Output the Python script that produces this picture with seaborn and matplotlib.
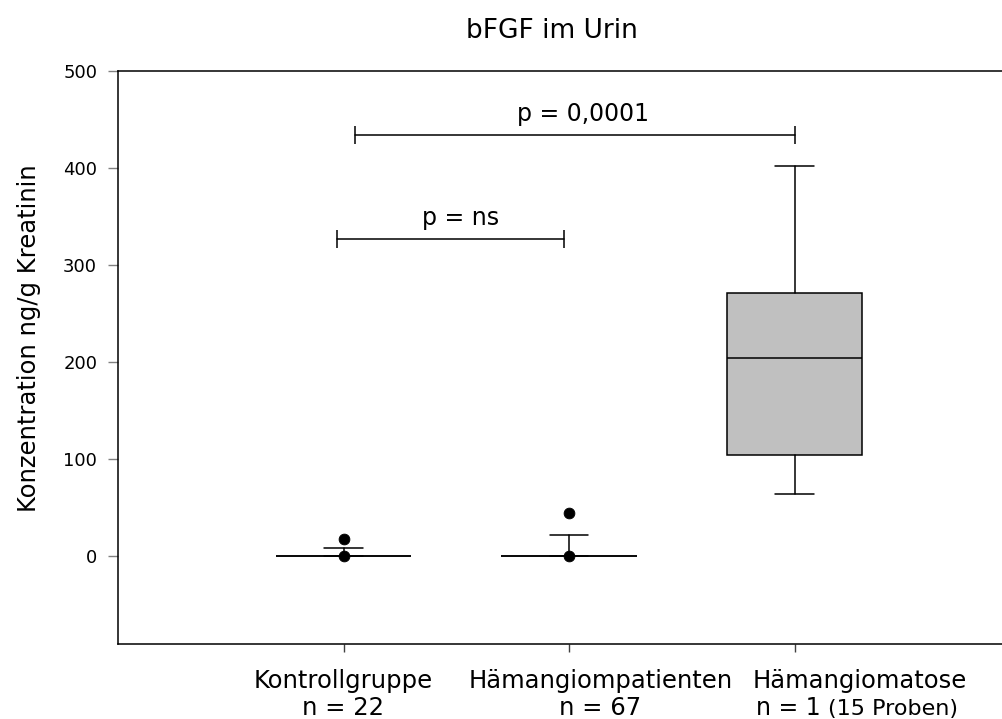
import matplotlib
matplotlib.use("Agg")
import matplotlib.pyplot as plt
import seaborn as sns
import pandas as pd

# Data
groups = ['Kontrollgruppe', 'Hämangiompatienten', 'Hämangiomatose']
n_labels = ['n = 22', 'n = 67', 'n = 1']
extra_label = '(15 Proben)'
medians = [0, 0, 204]
q1 = [0, 0, 104]
q3 = [0, 0, 271]
whisker_low = [0, 0, 64]
whisker_high = [8, 21, 402]
outliers = [[0, 17], [0, 44], []]

bracket_pairs = [(0.05, 2.0), (-0.03, 0.98)]
bracket_heights = [434, 327]
bracket_texts = ['p = 0,0001', 'p = ns']
bracket_text_x = [1.06, 0.52]

sns.set_style('ticks')
plt.rcParams['font.family'] = ['DejaVu Sans']
plt.rcParams['text.color'] = 'black'
plt.rcParams['xtick.labelcolor'] = 'black'
plt.rcParams['ytick.labelcolor'] = 'black'

fig = plt.figure(figsize=(10.02, 7.19), dpi=100)
ax = fig.add_axes([118 / 1002, 1 - 644 / 719, 902 / 1002, (644 - 71) / 719])

stats = []
for i, g in enumerate(groups):
    stats.append({'label': g, 'med': medians[i], 'q1': q1[i], 'q3': q3[i],
                  'whislo': whisker_low[i], 'whishi': whisker_high[i],
                  'fliers': []})

line_kw = dict(color='black', linewidth=1.1)
ax.bxp(stats, positions=range(len(groups)), widths=0.6, capwidths=0.17,
       patch_artist=True, showfliers=False, manage_ticks=False,
       boxprops=dict(facecolor='#c0c0c0', edgecolor='black', linewidth=1.1),
       medianprops=line_kw, whiskerprops=line_kw, capprops=line_kw)

# outlier dots
rows = [(i, v) for i, vals in enumerate(outliers) for v in vals]
df_out = pd.DataFrame(rows, columns=['pos', 'value'])
sns.scatterplot(data=df_out, x='pos', y='value', ax=ax, color='black',
                s=60, edgecolor='black', zorder=5, legend=False)

# significance brackets
for (x1, x2), h, t, tx in zip(bracket_pairs, bracket_heights, bracket_texts, bracket_text_x):
    ax.plot([x1, x2], [h, h], color='black', linewidth=1.1,
            marker='|', markersize=13, markeredgewidth=1.1)
    ax.annotate(t, xy=(tx, h), xytext=(0, 10), textcoords='offset points',
                ha='center', va='baseline', fontsize=17)

ax.set_xlim(-1, 3)
ax.set_ylim(-91, 500)
ax.set_yticks([0, 100, 200, 300, 400, 500])
ax.set_xticks(range(len(groups)))
ax.set_xticklabels([''] * len(groups))
ax.set_xlabel('')
ax.set_ylabel('')
ax.tick_params(axis='y', length=7, width=1, color='#808080', labelsize=13, pad=8)
ax.tick_params(axis='x', length=6, width=1, color='#404040')
for side in ['left', 'bottom', 'top']:
    ax.spines[side].set_color('black')
    ax.spines[side].set_linewidth(1.1)
ax.spines['right'].set_visible(False)

# category labels below the axis
label_x = [0.0, 1.14, 2.29]
for i, g in enumerate(groups):
    ax.annotate(g, xy=(label_x[i], 0), xycoords=('data', 'axes fraction'),
                xytext=(0, -32), textcoords='offset points',
                ha='center', va='baseline', fontsize=17.5)
for i in range(2):
    ax.annotate(n_labels[i], xy=(label_x[i], 0), xycoords=('data', 'axes fraction'),
                xytext=(0, -51), textcoords='offset points',
                ha='center', va='baseline', fontsize=17.5)
ax.annotate(n_labels[2], xy=(2, 0), xycoords=('data', 'axes fraction'),
            xytext=(-28, -51), textcoords='offset points',
            ha='left', va='baseline', fontsize=17)
ax.annotate(extra_label, xy=(2, 0), xycoords=('data', 'axes fraction'),
            xytext=(24, -51), textcoords='offset points',
            ha='left', va='baseline', fontsize=16)

fig.text(29 / 1002, 1 - 338 / 719, 'Konzentration ng/g Kreatinin',
         rotation=90, ha='center', va='center', fontsize=17.5)
fig.text(552 / 1002, 1 - 38 / 719, 'bFGF im Urin', ha='center', va='baseline',
         fontsize=19)

fig.savefig('out.png', dpi=100)
